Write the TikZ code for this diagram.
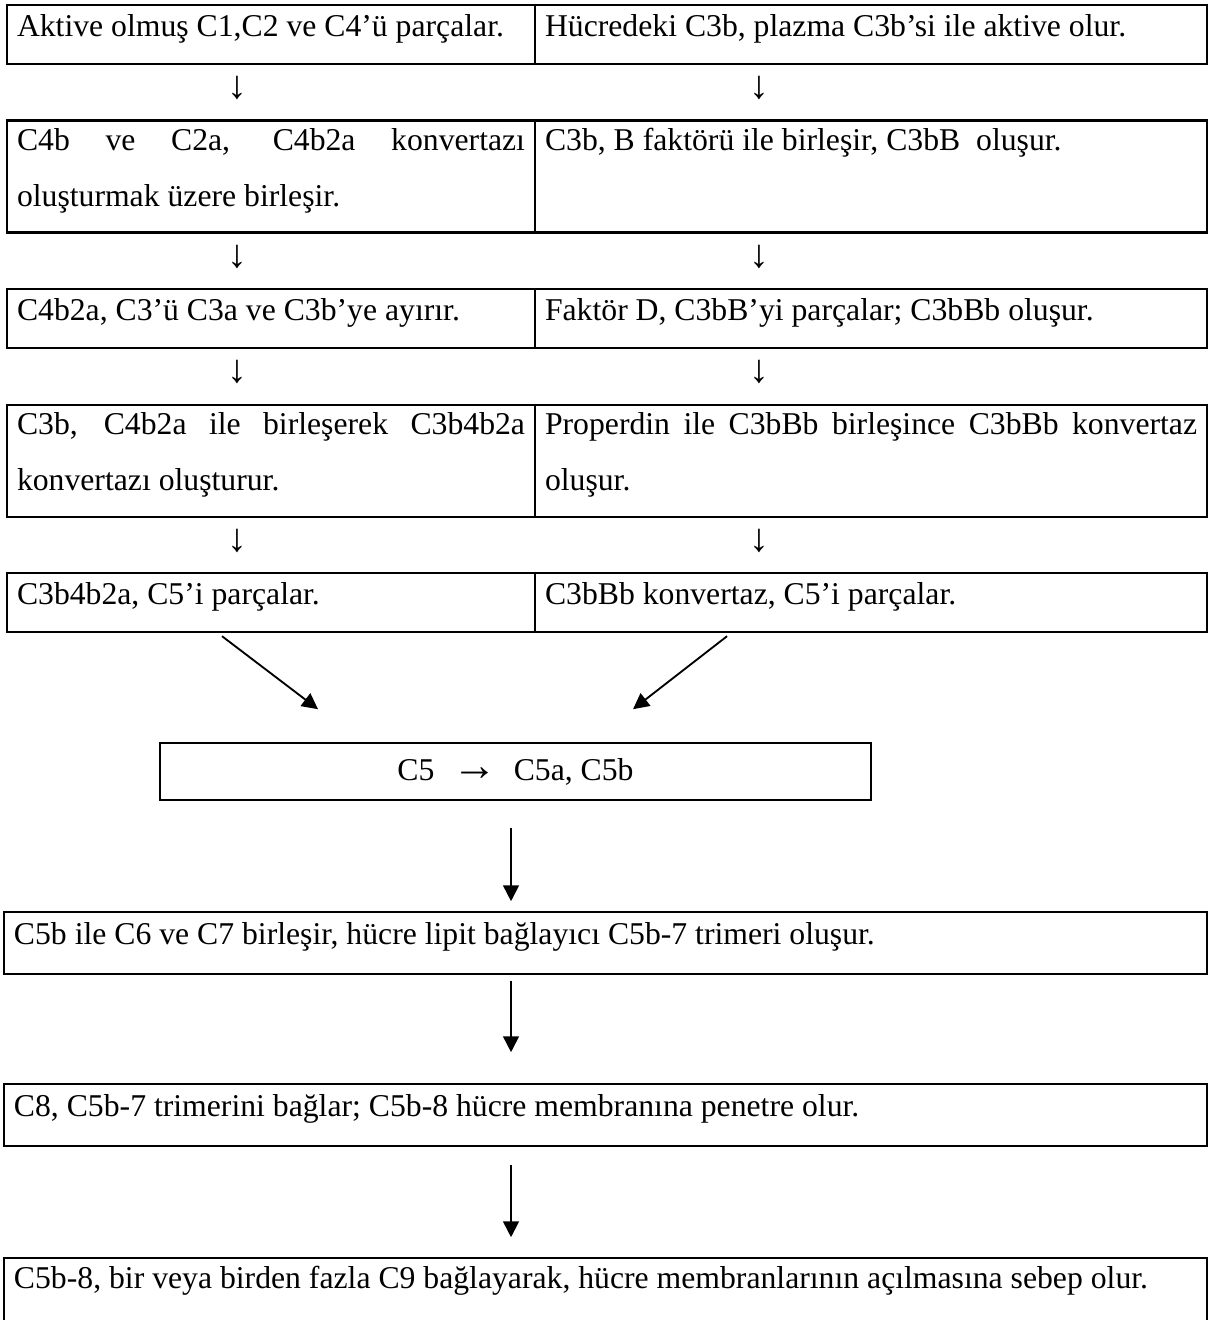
\documentclass[tikz,border=0pt]{standalone}
\usepackage{fontspec}
\setmainfont{Liberation Serif}
\usepackage{tikz}
\usetikzlibrary{arrows.meta,positioning,calc}
\newcommand{\cellstrut}{\rule[-9.84pt]{0pt}{21.2pt}}

\begin{document}
\begin{tikzpicture}[
    cell/.style={draw, line width=0.8pt, outer sep=0pt, font=\fontsize{12}{21.2}\selectfont, align=justify, anchor=north west, inner xsep=3.785pt, inner ysep=0pt, minimum height=22.33pt, execute at begin node=\cellstrut, execute at end node=\cellstrut},
    leftcell/.style={cell, text width=192.28pt},
    rightcell/.style={cell, text width=246.78pt},
    widecell/.style={cell, text width=447.77pt, minimum height=23.28pt},
    midbox/.style={draw, line width=0.8pt, outer sep=0pt, font=\fontsize{12}{14}\selectfont, minimum width=269.1pt, minimum height=21.57pt, inner sep=0pt},
    dn/.style={font=\fontsize{15}{16}\selectfont, inner sep=0pt},
    arrow/.style={-{Triangle[length=6pt, width=6pt]}, line width=0.7pt},
    node distance=21.4pt
]
\useasboundingbox (0,0) rectangle (457.2pt,-499.6pt);

% Left column
\node[leftcell] (l1) at (2.65pt,-1.89pt) {Aktive olmuş C1,C2 ve C4’ü parçalar.};
\node[leftcell, below=of l1] (l2) {C4b ve C2a, C4b2a konvertazı\linebreak oluşturmak üzere birleşir.};
\node[leftcell, below=of l2] (l3) {C4b2a, C3’ü C3a ve C3b’ye ayırır.};
\node[leftcell, below=of l3] (l4) {C3b, C4b2a ile birleşerek C3b4b2a\linebreak konvertazı oluşturur.};
\node[leftcell, below=of l4] (l5) {C3b4b2a, C5’i parçalar.};

% Right column
\node[rightcell] (r1) at (l1.north east) {Hücredeki C3b, plazma C3b’si ile aktive olur.};
\node[rightcell] (r2) at (l2.north east) {C3b, B faktörü ile birleşir, C3bB~ oluşur.\newline\mbox{}};
\node[rightcell] (r3) at (l3.north east) {Faktör D, C3bB’yi parçalar; C3bBb oluşur.};
\node[rightcell] (r4) at (l4.north east) {Properdin ile C3bBb birleşince C3bBb konvertaz\linebreak oluşur.};
\node[rightcell] (r5) at (l5.north east) {C3bBb konvertaz, C5’i parçalar.};

% Arrows between rows
\node[dn] (d1l) at ($(l1.south west)+(87.06pt,-9.2pt)$) {↓};
\node[dn] (d1r) at ($(r1.south west)+(84.78pt,-9.2pt)$) {↓};
\node[dn] (d2l) at ($(l2.south west)+(87.06pt,-9.2pt)$) {↓};
\node[dn] (d2r) at ($(r2.south west)+(84.78pt,-9.2pt)$) {↓};
\node[dn] (d3l) at ($(l3.south west)+(87.06pt,-9.2pt)$) {↓};
\node[dn] (d3r) at ($(r3.south west)+(84.78pt,-9.2pt)$) {↓};
\node[dn] (d4l) at ($(l4.south west)+(87.06pt,-9.2pt)$) {↓};
\node[dn] (d4r) at ($(r4.south west)+(84.78pt,-9.2pt)$) {↓};

% Common path
\node[midbox, below right=42.01pt and 57.91pt of l5.south west] (c5) {C5\hspace{7pt}{\fontsize{17}{17}\selectfont →}\hspace{6pt}C5a, C5b\hspace{8.7pt}};
\node[widecell, below right=42.39pt and -59.05pt of c5.south west] (c5b) {C5b ile C6 ve C7 birleşir, hücre lipit bağlayıcı C5b-7 trimeri oluşur.};
\node[widecell, below=41.8pt of c5b] (c8) {C8, C5b-7 trimerini bağlar; C5b-8 hücre membranına penetre olur.};
\node[widecell, below=42.6pt of c8] (c9) {C5b-8, bir veya birden fazla C9 bağlayarak, hücre membranlarının açılmasına sebep olur.\rule[-15pt]{0pt}{0pt}};

% Connectors
\coordinate (inL) at ($(c5.north west)+(59.8pt,12.87pt)$);
\coordinate (inR) at ($(c5.north west)+(179.03pt,12.87pt)$);
\draw[arrow] ($(l5.south west)+(81.38pt,-1.51pt)$) -- (inL);
\draw[arrow] ($(r5.south west)+(72.67pt,-1.51pt)$) -- (inR);

\coordinate (ax) at ([xshift=-1.7pt]c5.south);
\draw[arrow, shorten <=10.6pt, shorten >=4.16pt] (ax) -- (ax |- c5b.north);
\draw[arrow, shorten <=2.65pt, shorten >=12.1pt] (ax |- c5b.south) -- (ax |- c8.north);
\draw[arrow, shorten <=7.4pt, shorten >=7.95pt] (ax |- c8.south) -- (ax |- c9.north);
\end{tikzpicture}
\end{document}
